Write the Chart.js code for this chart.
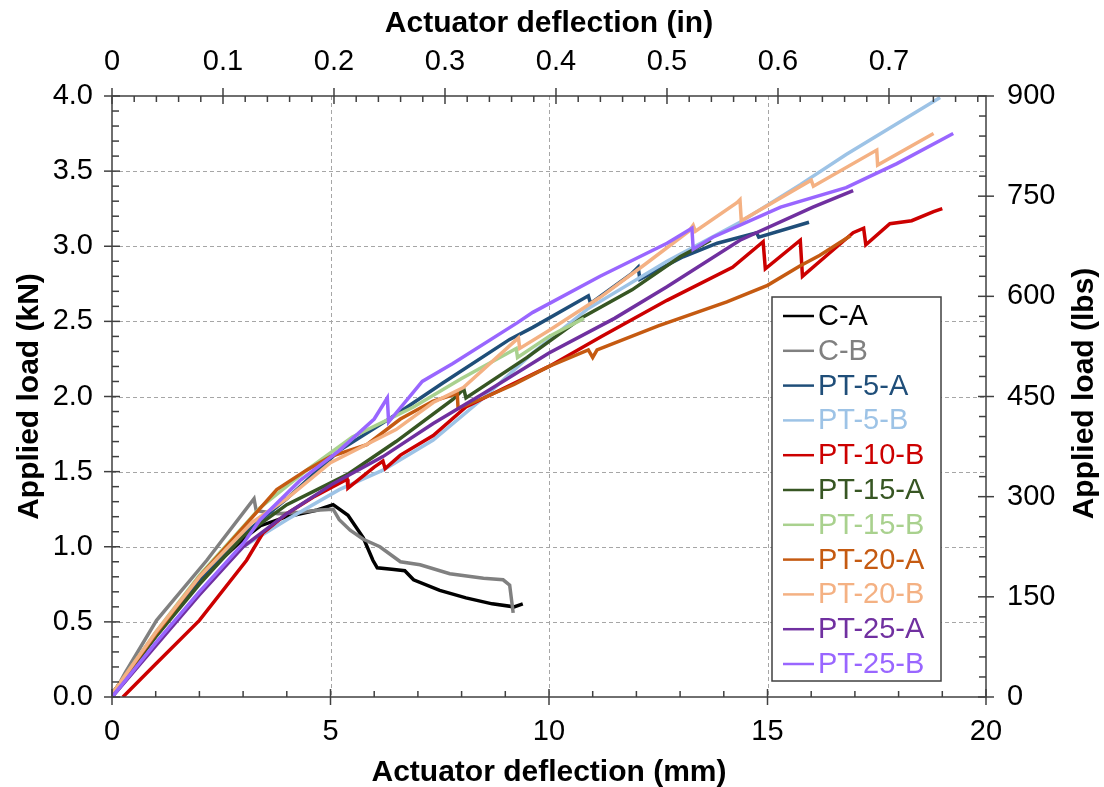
<!DOCTYPE html>
<html>
<head>
<meta charset="utf-8">
<script src="https://cdn.jsdelivr.net/npm/chart.js@4.4.0/dist/chart.umd.min.js"></script>
<style>
  html, body { margin: 0; padding: 0; background: #fff; }
  #wrap { width: 1104px; height: 787px; }
</style>
</head>
<body>
<div id="wrap"><canvas id="loadChart"></canvas></div>
<script>
// deflection in mm, load in kN
const caX = [0, 1.0, 2.0, 3.0, 3.4, 4.0, 4.7, 5.06, 5.4, 5.75, 5.97, 6.07, 6.4, 6.7, 6.9, 7.5, 8.1, 8.7, 9.2, 9.4];
const caY = [0, 0.41, 0.78, 1.05, 1.14, 1.2, 1.245, 1.28, 1.21, 1.06, 0.91, 0.86, 0.85, 0.84, 0.78, 0.71, 0.66, 0.62, 0.60, 0.62];

const cbX = [0, 0.3, 1.02, 2.17, 3.25, 3.3, 3.8, 4.3, 4.76, 5.06, 5.2, 5.45, 5.75, 6.13, 6.6, 7.05, 7.73, 8.5, 8.95, 9.1, 9.18];
const cbY = [0, 0.16, 0.51, 0.91, 1.32, 1.24, 1.22, 1.23, 1.245, 1.25, 1.18, 1.11, 1.05, 1.0, 0.90, 0.88, 0.82, 0.79, 0.78, 0.745, 0.56];

const pt5aX = [0, 1.0, 2.25, 3.0, 4.0, 5.2, 6.5, 7.57, 9.1, 9.63, 10.9, 10.95, 11.9, 12.04, 12.08, 13.07, 13.85, 14.75, 14.8, 15.95];
const pt5aY = [0.02, 0.42, 0.85, 1.08, 1.32, 1.64, 1.88, 2.09, 2.38, 2.46, 2.67, 2.62, 2.82, 2.86, 2.78, 2.93, 3.02, 3.09, 3.06, 3.16];

const pt5bX = [0, 1.0, 2.0, 3.0, 4.0, 5.2, 6.2, 7.35, 8.5, 9.63, 10.87, 12.7, 14.37, 15.75, 16.8, 18.95];
const pt5bY = [0, 0.35, 0.70, 1.0, 1.18, 1.38, 1.51, 1.71, 1.99, 2.29, 2.58, 2.90, 3.16, 3.41, 3.61, 3.99];

const pt10bX = [0.25, 1.0, 2.0, 3.08, 3.45, 4.0, 4.6, 5.38, 5.4, 6.0, 6.2, 6.25, 6.6, 7.35, 8.1, 9.0, 10.0, 11.2, 12.7, 14.2, 14.9, 14.95, 15.75, 15.8, 16.4, 16.96, 17.2, 17.25, 17.8, 18.3, 18.8, 19.0];
const pt10bY = [0, 0.22, 0.51, 0.91, 1.09, 1.22, 1.33, 1.45, 1.39, 1.53, 1.57, 1.52, 1.61, 1.74, 1.93, 2.06, 2.2, 2.40, 2.64, 2.86, 3.03, 2.85, 3.04, 2.80, 2.95, 3.09, 3.12, 3.01, 3.15, 3.17, 3.23, 3.25];

const pt15aX = [0, 1.0, 2.0, 3.0, 4.0, 5.38, 6.5, 7.8, 8.05, 8.1, 9.5, 10.78, 11.9, 13.0, 13.45, 13.7];
const pt15aY = [0.02, 0.40, 0.75, 1.07, 1.28, 1.48, 1.70, 1.98, 2.05, 1.99, 2.26, 2.53, 2.71, 2.93, 3.0, 3.04];

const pt15bX = [0, 1.0, 2.0, 3.39, 4.5, 5.5, 6.9, 8.0, 9.25, 9.28, 10.0, 10.8];
const pt15bY = [0.02, 0.43, 0.81, 1.26, 1.52, 1.73, 1.93, 2.12, 2.32, 2.26, 2.40, 2.52];

const pt20aX = [0, 1.0, 2.0, 3.16, 3.77, 4.45, 5.0, 5.83, 6.6, 7.35, 7.9, 7.92, 8.5, 9.2, 10.0, 10.9, 11.0, 11.1, 12.5, 14.07, 15.0, 15.75, 16.2, 16.9];
const pt20aY = [0.02, 0.42, 0.80, 1.18, 1.38, 1.51, 1.60, 1.68, 1.85, 1.97, 2.02, 1.92, 1.99, 2.08, 2.20, 2.31, 2.26, 2.31, 2.47, 2.63, 2.74, 2.87, 2.94, 3.07];

const pt20bX = [0, 1.0, 2.0, 3.2, 4.0, 5.0, 6.5, 7.35, 8.04, 9.3, 9.33, 10.0, 11.17, 12.2, 13.2, 13.3, 13.35, 14.3, 14.37, 14.4, 16.0, 16.05, 17.5, 17.52, 18.8];
const pt20bY = [0.02, 0.43, 0.80, 1.16, 1.32, 1.56, 1.78, 1.96, 2.06, 2.39, 2.32, 2.44, 2.66, 2.88, 3.10, 3.14, 3.10, 3.29, 3.31, 3.17, 3.44, 3.40, 3.64, 3.54, 3.75];

const pt25aX = [0, 1.0, 2.0, 3.0, 4.0, 5.06, 6.2, 7.35, 8.5, 10.0, 11.5, 12.7, 14.37, 16.04, 16.96];
const pt25aY = [0, 0.34, 0.68, 1.0, 1.22, 1.42, 1.60, 1.82, 2.02, 2.29, 2.52, 2.73, 3.04, 3.26, 3.37];

const pt25bX = [0, 1.0, 2.0, 3.0, 3.39, 4.3, 5.2, 6.0, 6.3, 6.33, 7.1, 7.8, 9.27, 9.63, 11.17, 12.7, 13.27, 13.3, 13.75, 15.3, 16.8, 17.96, 19.25];
const pt25bY = [0, 0.36, 0.70, 1.02, 1.18, 1.44, 1.64, 1.85, 1.99, 1.83, 2.10, 2.22, 2.49, 2.56, 2.80, 3.02, 3.12, 2.98, 3.06, 3.26, 3.39, 3.55, 3.75];

const seriesNames = ['C-A', 'C-B', 'PT-5-A', 'PT-5-B', 'PT-10-B', 'PT-15-A', 'PT-15-B', 'PT-20-A', 'PT-20-B', 'PT-25-A', 'PT-25-B'];
const seriesColors = ['#000000', '#808080', '#1f4e79', '#9dc3e6', '#cc0000', '#375623', '#a9d18e', '#c55a11', '#f4b183', '#7030a0', '#9966ff'];
const seriesX = [caX, cbX, pt5aX, pt5bX, pt10bX, pt15aX, pt15bX, pt20aX, pt20bX, pt25aX, pt25bX];
const seriesY = [caY, cbY, pt5aY, pt5bY, pt10bY, pt15aY, pt15bY, pt20aY, pt20bY, pt25aY, pt25bY];

// tick labels
const mmTicks = [0, 5, 10, 15, 20];
const inTicks = [0, 0.1, 0.2, 0.3, 0.4, 0.5, 0.6, 0.7];
const kNTicks = [0, 0.5, 1.0, 1.5, 2.0, 2.5, 3.0, 3.5, 4.0];
const lbsTicks = [0, 150, 300, 450, 600, 750, 900];

const FONT = '"Liberation Sans", Arial, sans-serif';
const AXIS = '#404040';

const datasets = seriesNames.map((name, i) => ({
    label: name,
    data: seriesX[i].map((x, j) => ({ x: x, y: seriesY[i][j] })),
    borderColor: seriesColors[i],
    backgroundColor: seriesColors[i],
    borderWidth: 3.5,
    pointRadius: 0,
    fill: false,
    tension: 0,
    order: seriesNames.length - i // later series drawn on top
}));

function setTicks(list) {
    return scale => { scale.ticks = list.map(v => ({ value: v })); };
}

// gridlines, inward/outward tick marks, frame, legend box, right title
const decor = {
    id: 'decor',
    beforeDatasetsDraw(chart) {
        const { ctx, chartArea: a, scales } = chart;
        ctx.save();
        ctx.strokeStyle = '#a6a6a6';
        ctx.lineWidth = 1;
        ctx.setLineDash([4, 3]);
        mmTicks.slice(1, -1).forEach(v => {
            const px = Math.round(scales.x.getPixelForValue(v)) + 0.5;
            ctx.beginPath(); ctx.moveTo(px, a.top); ctx.lineTo(px, a.bottom); ctx.stroke();
        });
        kNTicks.slice(1, -1).forEach(v => {
            const py = Math.round(scales.y.getPixelForValue(v)) + 0.5;
            ctx.beginPath(); ctx.moveTo(a.left, py); ctx.lineTo(a.right, py); ctx.stroke();
        });
        ctx.restore();
    },
    afterDatasetsDraw(chart) {
        const { ctx, chartArea: a, scales } = chart;
        ctx.save();
        ctx.strokeStyle = AXIS;
        ctx.lineWidth = 1.5;
        ctx.strokeRect(a.left, a.top, a.right - a.left, a.bottom - a.top);
        const line = (x1, y1, x2, y2) => { ctx.beginPath(); ctx.moveTo(x1, y1); ctx.lineTo(x2, y2); ctx.stroke(); };
        // bottom, mm
        for (let v = 0; v <= 20; v += 1) {
            const px = scales.x.getPixelForValue(v);
            if (v % 5 === 0) line(px, a.bottom - 8, px, a.bottom + 8);
            else line(px, a.bottom - 6, px, a.bottom);
        }
        // top, inches
        for (let k = 0; k <= 39; k++) {
            const px = scales.x2.getPixelForValue(k * 0.02);
            if (k % 5 === 0) line(px, a.top - 8, px, a.top + 8);
            else line(px, a.top, px, a.top + 6);
        }
        // left, kN
        for (let k = 0; k <= 40; k++) {
            const py = scales.y.getPixelForValue(k * 0.1);
            if (k % 5 === 0) line(a.left - 8, py, a.left + 8, py);
            else line(a.left, py, a.left + 7, py);
        }
        // right, lbs
        for (let k = 0; k <= 30; k++) {
            const py = scales.y2.getPixelForValue(k * 30);
            if (k % 5 === 0) line(a.right - 8, py, a.right + 8, py);
            else line(a.right - 7, py, a.right, py);
        }
        ctx.restore();
    },
    afterDraw(chart) {
        const { ctx, chartArea: a } = chart;
        ctx.save();
        // right axis title, reading bottom to top
        ctx.translate(1085, (a.top + a.bottom) / 2 - 3);
        ctx.rotate(-Math.PI / 2);
        ctx.font = 'bold 30px ' + FONT;
        ctx.fillStyle = '#000';
        ctx.textAlign = 'center';
        ctx.textBaseline = 'middle';
        ctx.fillText('Applied load (lbs)', 0, 0);
        ctx.restore();

        // legend inside the plot
        const bx = 772, by = 297, bw = 169, bh = 384, row = 34.8;
        ctx.save();
        ctx.fillStyle = '#fff';
        ctx.fillRect(bx, by, bw, bh);
        ctx.strokeStyle = AXIS;
        ctx.lineWidth = 1.5;
        ctx.strokeRect(bx, by, bw, bh);
        ctx.font = '29px ' + FONT;
        ctx.textBaseline = 'middle';
        ctx.textAlign = 'left';
        chart.data.datasets.forEach((ds, i) => {
            const y = by + 19 + i * row;
            ctx.strokeStyle = ds.borderColor;
            ctx.lineWidth = 2.5;
            ctx.beginPath(); ctx.moveTo(783, y); ctx.lineTo(814, y); ctx.stroke();
            ctx.fillStyle = ds.borderColor;
            ctx.fillText(ds.label, 818, y + 1);
        });
        ctx.restore();
    }
};

const tickFont = { family: FONT, size: 29 };
const titleFont = { family: FONT, size: 30, weight: 'bold' };

new Chart(document.getElementById('loadChart'), {
    type: 'line',
    data: { datasets: datasets },
    options: {
        responsive: true,
        maintainAspectRatio: false,
        animation: false,
        layout: { padding: 0 },
        plugins: {
            legend: { display: false },
            tooltip: { enabled: false }
        },
        scales: {
            x: {
                type: 'linear', position: 'bottom', min: 0, max: 20,
                afterBuildTicks: setTicks(mmTicks),
                afterFit: s => { s.height = 90; },
                grid: { display: false, drawTicks: false },
                border: { display: false },
                ticks: { font: tickFont, color: '#000', padding: 18, maxRotation: 0 },
                title: { display: true, text: 'Actuator deflection (mm)', font: titleFont, color: '#000', padding: { top: 0, bottom: -4 } }
            },
            x2: {
                type: 'linear', position: 'top', min: 0, max: 20 / 25.4,
                afterBuildTicks: setTicks(inTicks),
                afterFit: s => { s.height = 96; },
                grid: { display: false, drawTicks: false },
                border: { display: false },
                ticks: { font: tickFont, color: '#000', padding: 17, maxRotation: 0, callback: v => String(Math.round(v * 10) / 10) },
                title: { display: true, text: 'Actuator deflection (in)', font: titleFont, color: '#000', padding: { top: 6, bottom: 0 } }
            },
            y: {
                type: 'linear', position: 'left', min: 0, max: 4,
                afterBuildTicks: setTicks(kNTicks),
                afterFit: s => { s.width = 112; },
                grid: { display: false, drawTicks: false },
                border: { display: false },
                ticks: { font: tickFont, color: '#000', padding: 19, callback: v => v.toFixed(1) },
                title: { display: true, text: 'Applied load (kN)', font: titleFont, color: '#000', padding: { top: 12, bottom: 0 } }
            },
            y2: {
                type: 'linear', position: 'right', min: 0, max: 900,
                afterBuildTicks: setTicks(lbsTicks),
                afterFit: s => { s.width = 118; },
                grid: { display: false, drawTicks: false },
                border: { display: false },
                ticks: { font: tickFont, color: '#000', padding: 21 }
            }
        }
    },
    plugins: [decor]
});
</script>
</body>
</html>
